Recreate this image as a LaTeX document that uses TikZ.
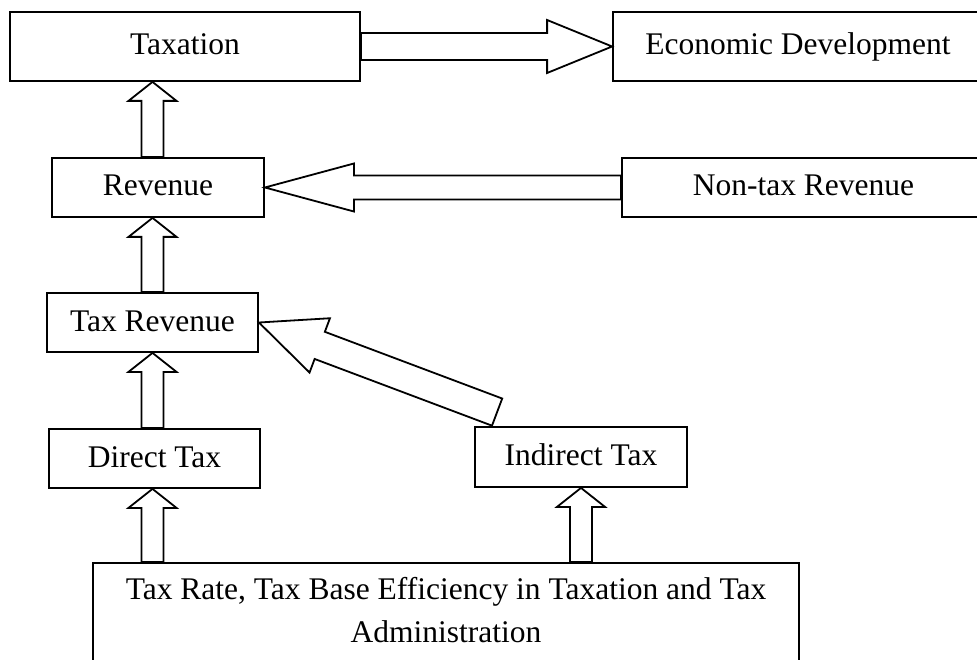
\documentclass[tikz,border=0pt]{standalone}
\usepackage{fontspec}
\setmainfont{Liberation Serif}
\usetikzlibrary{calc}

% hollow block arrow: from, to, shaft width, head width, head length
\newcommand{\blockarrow}[5]{%
  \draw[blockline] let \p1=(#1), \p2=(#2),
      \n1={atan2(\y2-\y1,\x2-\x1)}, \n2={veclen(\x2-\x1,\y2-\y1)} in
    {[shift={(\p1)},rotate=\n1]
    (0,-#3/2) -- (\n2-#5,-#3/2) -- (\n2-#5,-#4/2) -- (\n2,0)
    -- (\n2-#5,#4/2) -- (\n2-#5,#3/2) -- (0,#3/2) -- cycle};
}

\begin{document}
\begin{tikzpicture}[x=1pt,y=1pt,line width=1.8pt,
    box/.style={rectangle,draw,inner sep=0pt,text height=22pt,text depth=5pt,
      font=\fontsize{31.5}{43}\selectfont},
    blockline/.style={fill=white,line join=miter}]
    \useasboundingbox (0,0) rectangle (977,-660);
    % boxes
    \node[box,minimum width=350pt,minimum height=69pt] (tax) at (185,-46.5) {Taxation};
    \node[box,minimum width=370pt,minimum height=69pt] (econ) at (798,-46.5) {Economic Development};
    \node[box,minimum width=212pt,minimum height=59pt] (rev) at (158,-187.5) {Revenue};
    \node[box,minimum width=363pt,minimum height=59pt] (nontax) at (803.5,-187.5) {Non-tax Revenue};
    \node[box,minimum width=211pt,minimum height=59pt] (taxrev) at (152.5,-322.5) {Tax Revenue};
    \node[box,minimum width=211pt,minimum height=59pt] (direct) at (154.5,-458.5) {Direct Tax};
    \node[box,minimum width=212pt,minimum height=60pt] (indirect) at (581,-457) {Indirect Tax};
    \node[box,minimum width=706pt,minimum height=110pt,anchor=north] (base) at (446,-562) {};
    \node[font=\fontsize{31.5}{43}\selectfont,align=center,anchor=north,inner sep=0pt]
      (basetext) at ([yshift=-14pt]base.north)
      {Tax Rate, Tax Base Efficiency in Taxation and Tax\\Administration};
    % arrows
    \blockarrow{tax.east}{econ.west}{27}{53}{65}
    \blockarrow{nontax.west}{rev.east}{24}{48}{89}
    \blockarrow{rev.north -| taxrev.north}{tax.south -| taxrev.north}{22}{48}{19}
    \blockarrow{taxrev.north}{rev.south -| taxrev.north}{22}{48}{19}
    \blockarrow{direct.north -| taxrev.north}{taxrev.south}{22}{48}{19}
    \blockarrow{base.north -| taxrev.north}{direct.south -| taxrev.north}{22}{48}{19}
    \blockarrow{base.north -| indirect.south}{indirect.south}{22}{48}{19}
    \coordinate (itail) at ($(indirect.north west)+(23,14)$);
    \blockarrow{itail}{taxrev.east}{29}{58}{65}
\end{tikzpicture}
\end{document}
